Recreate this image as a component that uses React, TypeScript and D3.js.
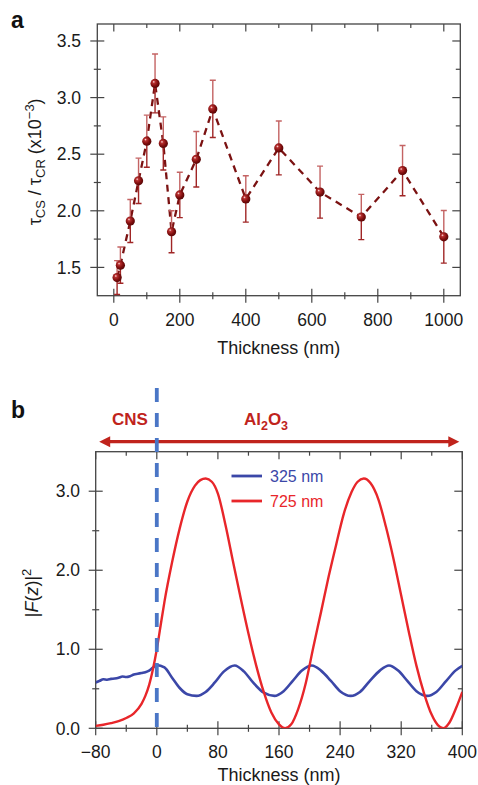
import React, { useEffect } from "react";
import * as d3 from "d3";

// ---------- Panel a data ----------
const thicknessA = [10, 20, 50, 75, 100, 125, 150, 175, 200, 250, 300, 400, 500, 625, 750, 875, 1000];
const ratioA = [1.41, 1.52, 1.91, 2.265, 2.615, 3.125, 2.595, 1.815, 2.14, 2.455, 2.9, 2.105, 2.555, 2.165, 1.945, 2.355, 1.77];
const errA = [0.15, 0.16, 0.19, 0.2, 0.23, 0.26, 0.235, 0.185, 0.2, 0.245, 0.253, 0.205, 0.238, 0.23, 0.2, 0.222, 0.232];
const xTicksA = [0, 200, 400, 600, 800, 1000];
const xMinorA = [100, 300, 500, 700, 900];
const yTicksA = [1.5, 2.0, 2.5, 3.0, 3.5];
const yMinorA = [1.75, 2.25, 2.75, 3.25];

// ---------- Panel b data ----------
const redX = [-80, -70, -60, -50, -40, -30, -20, -15, -10, -5, 0, 5, 10, 20, 30, 40, 50, 57, 64, 72, 80, 90, 100, 110, 120, 130, 140, 150, 160, 168, 176, 185, 195, 205, 215, 225, 235, 245, 255, 263, 271, 280, 290, 300, 310, 320, 330, 340, 350, 360, 368, 375, 383, 392, 400];
const redY = [0.03, 0.045, 0.065, 0.09, 0.13, 0.19, 0.31, 0.41, 0.55, 0.75, 1.0, 1.3, 1.6, 2.1, 2.53, 2.87, 3.07, 3.14, 3.16, 3.12, 2.97, 2.57, 2.1, 1.64, 1.2, 0.8, 0.46, 0.2, 0.05, 0.0, 0.05, 0.24, 0.57, 1.03, 1.47, 1.92, 2.33, 2.72, 2.99, 3.12, 3.16, 3.1, 2.9, 2.55, 2.14, 1.68, 1.22, 0.79, 0.44, 0.17, 0.04, 0.0, 0.07, 0.26, 0.46];
const blueX = [-80, -75, -70, -65, -60, -55, -50, -45, -40, -35, -30, -25, -20, -15, -10, -5, 0, 10, 20, 30, 40, 52, 64, 76, 88, 102, 114, 126, 140, 154, 166, 178, 190, 203, 215, 228, 240, 254, 266, 279, 292, 304, 316, 328, 340, 354, 366, 379, 391, 400];
const blueY = [0.58, 0.6, 0.62, 0.615, 0.625, 0.63, 0.64, 0.655, 0.65, 0.66, 0.68, 0.69, 0.7, 0.71, 0.73, 0.77, 0.8, 0.77, 0.64, 0.51, 0.43, 0.41, 0.46, 0.58, 0.72, 0.795, 0.72, 0.58, 0.45, 0.41, 0.47, 0.6, 0.73, 0.795, 0.73, 0.6, 0.47, 0.41, 0.46, 0.6, 0.73, 0.795, 0.73, 0.6, 0.47, 0.41, 0.46, 0.6, 0.73, 0.79];
const xTicksB = [-80, 0, 80, 160, 240, 320, 400];
const xMinorB = [-40, 40, 120, 200, 280, 360];
const yTicksB = [0, 1, 2, 3];
const yMinorB = [0.5, 1.5, 2.5];
const legendLabels = ["325 nm", "725 nm"];

const FONT = "'Liberation Sans', Arial, Helvetica, sans-serif";
const RED = "#e8262a";
const BLUE = "#3b47a8";
const DASHBLUE = "#4a76c6";
const DARKRED = "#7b1212";
const ARROWRED = "#c0231c";

function fmtMinus(v: number, digits: number) {
  const s = v.toFixed(digits);
  return s.replace("-", "\u2212");
}

function Frame({ x0, x1, y0, y1, xs, ys, xMaj, xMin, yMaj, yMin }: any) {
  const col = "#444";
  const items: any[] = [];
  xMaj.forEach((v: number, i: number) => {
    const x = xs(v);
    items.push(<line key={"xb" + i} x1={x} x2={x} y1={y1 - 7} y2={y1 + 7} stroke={col} strokeWidth={1.2} />);
    items.push(<line key={"xt" + i} x1={x} x2={x} y1={y0} y2={y0 + 7.5} stroke={col} strokeWidth={1.2} />);
  });
  xMin.forEach((v: number, i: number) => {
    const x = xs(v);
    items.push(<line key={"xbm" + i} x1={x} x2={x} y1={y1 - 3.5} y2={y1 + 3.5} stroke={col} strokeWidth={1.2} />);
    items.push(<line key={"xtm" + i} x1={x} x2={x} y1={y0} y2={y0 + 4} stroke={col} strokeWidth={1.2} />);
  });
  yMaj.forEach((v: number, i: number) => {
    const y = ys(v);
    items.push(<line key={"yl" + i} x1={x0 - 7} x2={x0 + 7} y1={y} y2={y} stroke={col} strokeWidth={1.2} />);
    items.push(<line key={"yr" + i} x1={x1 - 8} x2={x1} y1={y} y2={y} stroke={col} strokeWidth={1.2} />);
  });
  yMin.forEach((v: number, i: number) => {
    const y = ys(v);
    items.push(<line key={"ylm" + i} x1={x0 - 3.5} x2={x0 + 3.5} y1={y} y2={y} stroke={col} strokeWidth={1.2} />);
    items.push(<line key={"yrm" + i} x1={x1 - 4.5} x2={x1} y1={y} y2={y} stroke={col} strokeWidth={1.2} />);
  });
  return (
    <g>
      <rect x={x0} y={y0} width={x1 - x0} height={y1 - y0} fill="none" stroke={col} strokeWidth={1.3} />
      {items}
    </g>
  );
}

export default function App() {
  useEffect(() => {
    document.body.style.margin = "0";
  }, []);

  // Panel a geometry
  const aL = 97.3, aR = 460.3, aT = 24, aB = 295.7;
  const xA = d3.scaleLinear().domain([-50, 1050]).range([aL, aR]);
  const yA = d3.scaleLinear().domain([1.25, 3.65]).range([aB, aT]);

  // Panel b geometry
  const bL = 95.7, bR = 462.3, bT = 451.7, bB = 728.3;
  const xB = d3.scaleLinear().domain([-80, 400]).range([bL, bR]);
  const yB = d3.scaleLinear().domain([0, 3.5]).range([bB, bT]);

  const lineA = d3.line<number>().x((_, i) => xA(thicknessA[i])).y((d) => yA(d));
  const redLine = d3.line<number>().x((_, i) => xB(redX[i])).y((d) => yB(d)).curve(d3.curveMonotoneX);
  const blueLine = d3.line<number>().x((_, i) => xB(blueX[i])).y((d) => yB(d)).curve(d3.curveMonotoneX);

  const arrowY = 441.7;
  const arrowL = bL + 3.5;
  const arrowR = bR - 3;

  return (
    <svg width={478} height={785} style={{ position: "absolute", left: 0, top: 0, fontFamily: FONT }}>
      <defs>
        <radialGradient id="ball" cx="0.4" cy="0.4" r="0.65" fx="0.35" fy="0.32">
          <stop offset="0" stopColor="#ffe6e6" />
          <stop offset="0.22" stopColor="#b83030" />
          <stop offset="0.65" stopColor="#7d0d0d" />
          <stop offset="1" stopColor="#520606" />
        </radialGradient>
        <clipPath id="clipA">
          <rect x={aL} y={aT} width={aR - aL} height={aB - aT} />
        </clipPath>
        <clipPath id="clipB">
          <rect x={bL} y={bT} width={bR - bL} height={bB - bT} />
        </clipPath>
      </defs>
      <rect x={0} y={0} width={478} height={785} fill="#fff" />

      {/* ---------------- Panel a ---------------- */}
      <text x={11} y={28} fontSize={23} fontWeight="bold" fill="#111">a</text>
      <Frame x0={aL} x1={aR} y0={aT} y1={aB} xs={xA} ys={yA} xMaj={xTicksA} xMin={xMinorA} yMaj={yTicksA} yMin={yMinorA} />
      {xTicksA.map((v) => (
        <text key={"xla" + v} x={xA(v)} y={325.5} fontSize={17.5} textAnchor="middle" fill="#1a1a1a">{v}</text>
      ))}
      {yTicksA.map((v) => (
        <text key={"yla" + v} x={81} y={yA(v) + 6.2} fontSize={17.5} textAnchor="end" fill="#1a1a1a">{v.toFixed(1)}</text>
      ))}
      <text x={(aL + aR) / 2} y={353.5} fontSize={18} textAnchor="middle" fill="#1a1a1a">Thickness (nm)</text>
      <text transform={`translate(41,${(aT + aB) / 2 + 2}) rotate(-90)`} fontSize={18} textAnchor="middle" fill="#1a1a1a">
        <tspan>τ</tspan>
        <tspan fontSize={13} dy={4}>CS</tspan>
        <tspan dy={-4}> / τ</tspan>
        <tspan fontSize={13} dy={4}>CR</tspan>
        <tspan dy={-4}> (x10</tspan>
        <tspan fontSize={13} dy={-7}>−3</tspan>
        <tspan dy={7}>)</tspan>
      </text>
      <g clipPath="url(#clipA)">
        <path d={lineA(ratioA) || ""} fill="none" stroke={DARKRED} strokeWidth={2.3} strokeDasharray="7,5.5" />
        {thicknessA.map((t, i) => {
          const x = xA(t);
          const yc = yA(ratioA[i]);
          const yt = yA(ratioA[i] + errA[i]);
          const yb = yA(ratioA[i] - errA[i]);
          return (
            <g key={"eb" + i}>
              <line x1={x} x2={x} y1={yt} y2={yc} stroke="#c46363" strokeWidth={1.4} />
              <line x1={x} x2={x} y1={yc} y2={yb} stroke="#a02626" strokeWidth={1.4} />
              <line x1={x - 3} x2={x + 3} y1={yt} y2={yt} stroke="#c46363" strokeWidth={1.4} />
              <line x1={x - 3} x2={x + 3} y1={yb} y2={yb} stroke="#a02626" strokeWidth={1.4} />
            </g>
          );
        })}
        {thicknessA.map((t, i) => (
          <circle key={"pt" + i} cx={xA(t)} cy={yA(ratioA[i])} r={4.6} fill="url(#ball)" />
        ))}
      </g>

      {/* ---------------- Panel b ---------------- */}
      <text x={11} y={418} fontSize={23} fontWeight="bold" fill="#111">b</text>
      <text x={130} y={425} fontSize={17} fontWeight="bold" textAnchor="middle" fill={ARROWRED}>CNS</text>
      <text x={266} y={425} fontSize={17} fontWeight="bold" textAnchor="middle" fill={ARROWRED}>
        <tspan>Al</tspan>
        <tspan fontSize={12.5} dy={5}>2</tspan>
        <tspan dy={-5}>O</tspan>
        <tspan fontSize={12.5} dy={5}>3</tspan>
      </text>
      <line x1={arrowL + 9} x2={arrowR - 9} y1={arrowY} y2={arrowY} stroke={ARROWRED} strokeWidth={3.2} />
      <polygon points={`${arrowL},${arrowY} ${arrowL + 11},${arrowY - 5.5} ${arrowL + 11},${arrowY + 5.5}`} fill={ARROWRED} />
      <polygon points={`${arrowR},${arrowY} ${arrowR - 11},${arrowY - 5.5} ${arrowR - 11},${arrowY + 5.5}`} fill={ARROWRED} />

      <Frame x0={bL} x1={bR} y0={bT} y1={bB} xs={xB} ys={yB} xMaj={xTicksB} xMin={xMinorB} yMaj={yTicksB} yMin={yMinorB} />
      {xTicksB.map((v) => (
        <text key={"xlb" + v} x={xB(v)} y={758} fontSize={17.5} textAnchor="middle" fill="#1a1a1a">{fmtMinus(v, 0)}</text>
      ))}
      {yTicksB.map((v) => (
        <text key={"ylb" + v} x={80} y={yB(v) + 6.2} fontSize={17.5} textAnchor="end" fill="#1a1a1a">{v.toFixed(1)}</text>
      ))}
      <text x={(bL + bR) / 2} y={781} fontSize={18} textAnchor="middle" fill="#1a1a1a">Thickness (nm)</text>
      <text transform={`translate(38,${(bT + bB) / 2 + 3}) rotate(-90)`} fontSize={18} textAnchor="middle" fill="#1a1a1a">
        <tspan>|</tspan>
        <tspan fontStyle="italic">F</tspan>
        <tspan>(</tspan>
        <tspan fontStyle="italic">z</tspan>
        <tspan>)|</tspan>
        <tspan fontSize={13} dy={-7}>2</tspan>
      </text>

      <g clipPath="url(#clipB)">
        <path d={blueLine(blueY) || ""} fill="none" stroke={BLUE} strokeWidth={2.6} />
        <path d={redLine(redY) || ""} fill="none" stroke={RED} strokeWidth={2.4} />
      </g>
      <line x1={xB(0)} x2={xB(0)} y1={388} y2={yB(0)} stroke={DASHBLUE} strokeWidth={3.8} strokeDasharray="14,11" />

      {/* legend */}
      {legendLabels.map((lab, i) => {
        const y = 476 + i * 25;
        const c = i === 0 ? BLUE : RED;
        return (
          <g key={"lg" + i}>
            <line x1={231.5} x2={262} y1={y} y2={y} stroke={c} strokeWidth={2.8} />
            <text x={270} y={y + 6} fontSize={16} fill={c}>{lab}</text>
          </g>
        );
      })}
    </svg>
  );
}
